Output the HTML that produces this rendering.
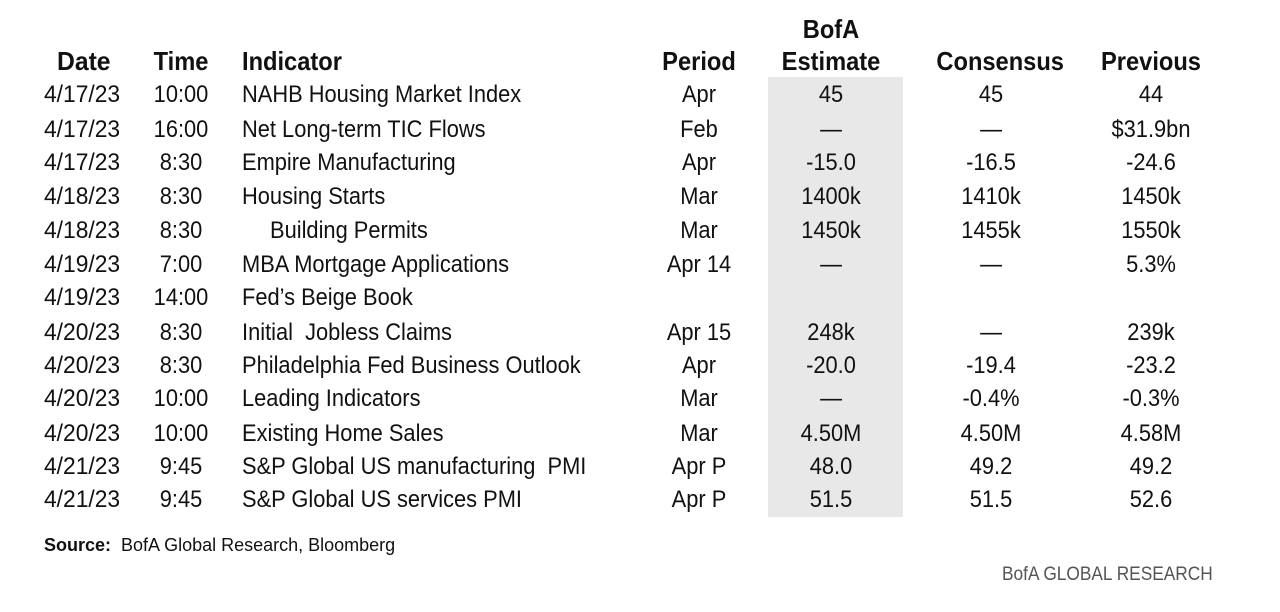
<!DOCTYPE html>
<html><head><meta charset="utf-8"><style>
body{margin:0;width:1280px;height:612px;background:#fff;position:relative;overflow:hidden;font-family:"Liberation Sans",sans-serif;color:#111;}
.g{position:absolute;left:768px;top:77px;width:135px;height:440px;background:#e8e8e8;}
.r{position:absolute;left:0;width:1280px;height:34px;font-size:24px;line-height:34px;}
.r span{position:absolute;white-space:nowrap;transform:scaleX(0.91);transform-origin:center;}
.r span.d,.r span.i{transform-origin:left;}
.d{left:44px}
.t{left:141px;width:80px;text-align:center}
.i{left:242px}
.p{left:649px;width:100px;text-align:center}
.b{left:771px;width:120px;text-align:center}
.c{left:931px;width:120px;text-align:center}
.v{left:1091px;width:120px;text-align:center}
.h{font-weight:bold;font-size:26px;}
.r span.d{transform:scaleX(0.95);}
</style></head><body>
<div class="g"></div>
<div class="r h" style="top:12px"><span class="b">BofA</span></div>
<div class="r h" style="top:44px"><span class="d" style="left:57px">Date</span><span class="t">Time</span><span class="i">Indicator</span><span class="p">Period</span><span class="b">Estimate</span><span class="c">Consensus</span><span class="v">Previous</span></div>
<div class="r" style="top:78px"><span class="d">4/17/23</span><span class="t">10:00</span><span class="i">NAHB Housing Market Index</span><span class="p">Apr</span><span class="b">45</span><span class="c">45</span><span class="v">44</span></div>
<div class="r" style="top:113px"><span class="d">4/17/23</span><span class="t">16:00</span><span class="i">Net Long-term TIC Flows</span><span class="p">Feb</span><span class="b">—</span><span class="c">—</span><span class="v">$31.9bn</span></div>
<div class="r" style="top:146px"><span class="d">4/17/23</span><span class="t">8:30</span><span class="i">Empire Manufacturing</span><span class="p">Apr</span><span class="b">-15.0</span><span class="c">-16.5</span><span class="v">-24.6</span></div>
<div class="r" style="top:180px"><span class="d">4/18/23</span><span class="t">8:30</span><span class="i">Housing Starts</span><span class="p">Mar</span><span class="b">1400k</span><span class="c">1410k</span><span class="v">1450k</span></div>
<div class="r" style="top:214px"><span class="d">4/18/23</span><span class="t">8:30</span><span class="i" style="left:270px">Building Permits</span><span class="p">Mar</span><span class="b">1450k</span><span class="c">1455k</span><span class="v">1550k</span></div>
<div class="r" style="top:248px"><span class="d">4/19/23</span><span class="t">7:00</span><span class="i">MBA Mortgage Applications</span><span class="p">Apr 14</span><span class="b">—</span><span class="c">—</span><span class="v">5.3%</span></div>
<div class="r" style="top:281px"><span class="d">4/19/23</span><span class="t">14:00</span><span class="i">Fed’s Beige Book</span></div>
<div class="r" style="top:316px"><span class="d">4/20/23</span><span class="t">8:30</span><span class="i">Initial&nbsp; Jobless Claims</span><span class="p">Apr 15</span><span class="b">248k</span><span class="c">—</span><span class="v">239k</span></div>
<div class="r" style="top:349px"><span class="d">4/20/23</span><span class="t">8:30</span><span class="i">Philadelphia Fed Business Outlook</span><span class="p">Apr</span><span class="b">-20.0</span><span class="c">-19.4</span><span class="v">-23.2</span></div>
<div class="r" style="top:382px"><span class="d">4/20/23</span><span class="t">10:00</span><span class="i">Leading Indicators</span><span class="p">Mar</span><span class="b">—</span><span class="c">-0.4%</span><span class="v">-0.3%</span></div>
<div class="r" style="top:417px"><span class="d">4/20/23</span><span class="t">10:00</span><span class="i">Existing Home Sales</span><span class="p">Mar</span><span class="b">4.50M</span><span class="c">4.50M</span><span class="v">4.58M</span></div>
<div class="r" style="top:450px"><span class="d">4/21/23</span><span class="t">9:45</span><span class="i">S&amp;P Global US manufacturing&nbsp; PMI</span><span class="p">Apr P</span><span class="b">48.0</span><span class="c">49.2</span><span class="v">49.2</span></div>
<div class="r" style="top:483px"><span class="d">4/21/23</span><span class="t">9:45</span><span class="i">S&amp;P Global US services PMI</span><span class="p">Apr P</span><span class="b">51.5</span><span class="c">51.5</span><span class="v">52.6</span></div>
<div style="position:absolute;left:44px;top:535px;font-size:18px;"><b>Source:</b>&nbsp; BofA Global Research, Bloomberg</div>
<div style="position:absolute;left:1002px;top:564px;font-size:19px;color:#555;transform:scaleX(0.91);transform-origin:left;">BofA GLOBAL RESEARCH</div>
</body></html>
